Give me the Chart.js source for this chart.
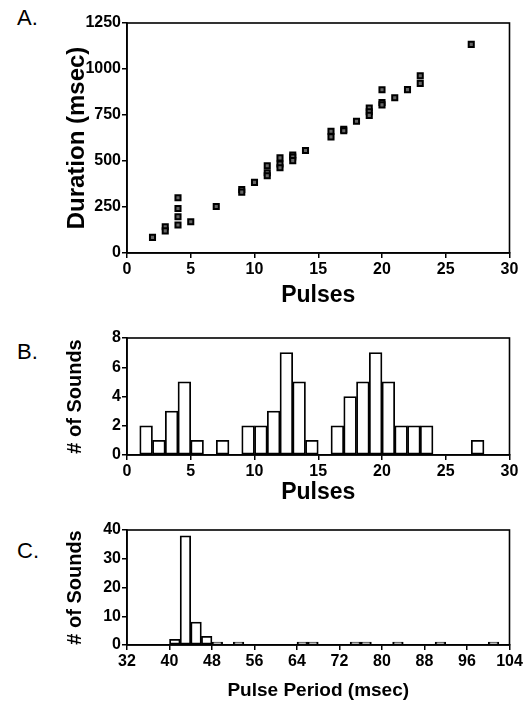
<!DOCTYPE html>
<html><head><meta charset="utf-8">
<script src="https://cdn.jsdelivr.net/npm/chart.js@4"></script>
<style>
body{margin:0;background:#fff;width:525px;height:712px;position:relative;overflow:hidden;font-family:"Liberation Sans",Arial,sans-serif}
canvas{position:absolute;left:0}
.lab{position:absolute;left:17px;font-size:22px;line-height:24px;color:#000}
</style></head><body>
<div class="lab" style="top:6px">A.</div>
<div class="lab" style="top:340px">B.</div>
<div class="lab" style="top:539px">C.</div>
<canvas id="a" width="525" height="310" style="top:0"></canvas>
<canvas id="b" width="525" height="190" style="top:320px"></canvas>
<canvas id="c" width="525" height="202" style="top:510px"></canvas>
<script>
// Panel A: pulses vs duration
const scatterPulses    = [2, 3, 3, 4, 4, 4, 4, 5, 7, 9, 9, 10, 11, 11, 11, 12, 12, 12, 13, 13, 13, 14, 16, 16, 17, 17, 18, 19, 19, 19, 20, 20, 20, 21, 22, 23, 23, 27];
const scatterDurations = [85, 143, 120, 300, 242, 197, 152, 170, 253, 345, 331, 384, 474, 436, 420, 517, 484, 463, 533, 522, 502, 557, 662, 631, 672, 664, 716, 788, 768, 748, 887, 818, 805, 844, 888, 963, 922, 1134];
const durationTicks = [0, 250, 500, 750, 1000, 1250];
const pulseTicks = [0, 5, 10, 15, 20, 25, 30];

// Panel B: histogram of pulses (bin start, width 1)
const pulseBinStart = [1, 2, 3, 4, 5, 6, 7, 8, 9, 10, 11, 12, 13, 14, 15, 16, 17, 18, 19, 20, 21, 22, 23, 24, 25, 26, 27, 28, 29];
const pulseCounts   = [2, 1, 3, 5, 1, 0, 1, 0, 2, 2, 3, 7, 5, 1, 0, 2, 4, 5, 7, 5, 2, 2, 2, 0, 0, 0, 1, 0, 0];
const soundTicksB = [0, 2, 4, 6, 8];

// Panel C: histogram of pulse period (bin start, width 2 msec)
const periodBinStart = [32, 34, 36, 38, 40, 42, 44, 46, 48, 50, 52, 54, 56, 58, 60, 62, 64, 66, 68, 70, 72, 74, 76, 78, 80, 82, 84, 86, 88, 90, 92, 94, 96, 98, 100, 102];
const periodCounts   = [0, 0, 0, 0, 2, 38, 8, 3, 1, 0, 1, 0, 0, 0, 0, 0, 1, 1, 0, 0, 0, 1, 1, 0, 0, 1, 0, 0, 0, 1, 0, 0, 0, 0, 1, 0];
const periodTicks = [32, 40, 48, 56, 64, 72, 80, 88, 96, 104];
const soundTicksC = [0, 10, 20, 30, 40];

const FONT = '"Liberation Sans", Arial, sans-serif';
const tickFont = {family: FONT, size: 16, weight: 'bold'};

const framePlugin = {
  id: 'frame',
  afterDraw(chart) {
    const {ctx, chartArea: a} = chart;
    ctx.save();
    ctx.strokeStyle = '#000';
    ctx.lineWidth = 1.6;
    ctx.strokeRect(a.left, a.top, a.right - a.left, a.bottom - a.top);
    ctx.restore();
  }
};

function setTicks(values) {
  return s => { s.ticks = values.map(v => ({value: v})); };
}
function axisX(min, max, ticks, title, tsize, height, titlePad) {
  return {
    type: 'linear', min, max, offset: false,
    afterFit: s => { s.height = height; },
    afterBuildTicks: setTicks(ticks),
    ticks: {color: '#000', font: tickFont, padding: 2, maxRotation: 0, autoSkip: false, callback: v => String(v)},
    grid: {display: true, offset: false, drawOnChartArea: false, drawTicks: true, tickLength: 5, color: '#000', lineWidth: 1.5},
    border: {display: true, color: '#000', width: 1.6},
    title: {display: true, text: title, color: '#000', font: {family: FONT, size: tsize, weight: 'bold'}, padding: {top: 0, bottom: titlePad}}
  };
}
function axisY(min, max, ticks, title, tsize, titlePad) {
  return {
    type: 'linear', min, max,
    afterFit: s => { s.width = 127; },
    afterBuildTicks: setTicks(ticks),
    ticks: {color: '#000', font: tickFont, padding: 1, autoSkip: false, callback: v => String(v)},
    grid: {display: true, drawOnChartArea: false, drawTicks: true, tickLength: 5, color: '#000', lineWidth: 1.5},
    border: {display: true, color: '#000', width: 1.6},
    title: {display: true, text: title, color: '#000', font: {family: FONT, size: tsize, weight: 'bold'}, padding: {top: titlePad, bottom: 0}}
  };
}

const common = {
  responsive: false, animation: false, devicePixelRatio: 1,
  plugins: {legend: {display: false}, tooltip: {enabled: false}}
};

// A
new Chart(document.getElementById('a'), {
  type: 'scatter',
  data: {datasets: [{
    data: scatterPulses.map((p, i) => ({x: p, y: scatterDurations[i]})),
    pointStyle: 'rect', pointRadius: 3.6, borderColor: '#000', borderWidth: 2, backgroundColor: '#666'
  }]},
  options: Object.assign({}, common, {
    layout: {padding: {top: 23, right: 15.5, bottom: 0, left: 0}},
    scales: {
      x: axisX(0, 30, pulseTicks, 'Pulses', 23, 57, 1),
      y: axisY(0, 1250, durationTicks, 'Duration (msec)', 24, 63)
    }
  }),
  plugins: [framePlugin]
});

// B
new Chart(document.getElementById('b'), {
  type: 'bar',
  data: {datasets: [{
    data: pulseBinStart.map((s, i) => ({x: s + 0.5, y: pulseCounts[i] || null})),
    backgroundColor: '#fff', borderColor: '#000', borderWidth: 1.8, borderSkipped: false,
    barPercentage: 1, categoryPercentage: 1
  }]},
  options: Object.assign({}, common, {
    layout: {padding: {top: 18, right: 15.5, bottom: 0, left: 0}},
    scales: {
      x: axisX(0, 30, pulseTicks, 'Pulses', 23, 55, 4),
      y: axisY(0, 8, soundTicksB, '# of Sounds', 20, 63)
    }
  }),
  plugins: [framePlugin]
});

// C
new Chart(document.getElementById('c'), {
  type: 'bar',
  data: {datasets: [{
    data: periodBinStart.map((s, i) => ({x: s + 1, y: periodCounts[i] || null})),
    backgroundColor: '#fff', borderColor: '#000', borderWidth: 1.8, borderSkipped: false,
    barPercentage: 1, categoryPercentage: 1
  }]},
  options: Object.assign({}, common, {
    layout: {padding: {top: 20, right: 15.5, bottom: 0, left: 0}},
    scales: {
      x: axisX(32, 104, periodTicks, 'Pulse Period (msec)', 19, 67, 10),
      y: axisY(0, 40, soundTicksC, '# of Sounds', 20, 63)
    }
  }),
  plugins: [framePlugin]
});
</script>
</body></html>
